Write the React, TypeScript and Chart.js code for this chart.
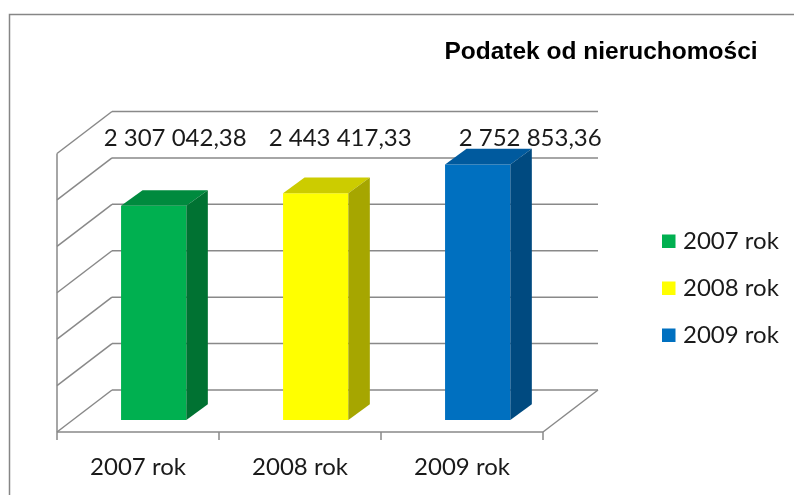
import React, { useEffect, useRef } from 'react';
import { Chart, registerables } from 'chart.js';

Chart.register(...registerables);

// ---- data ----
const categories = ['2007 rok', '2008 rok', '2009 rok'];
const values = [2307042.38, 2443417.33, 2752853.36];
const yTicks = [0, 500000, 1000000, 1500000, 2000000, 2500000, 3000000];
const chartTitle = 'Podatek od nieruchomości';

// ---- styles ----
const frontColors = ['#00B050', '#FFFF00', '#0070C0'];
const topColors = ['#008A3E', '#CCCC00', '#005A9E'];
const sideColors = ['#007232', '#A6A600', '#004A80'];
const labelShift = [0, 3, 31];

const FRONT = { dx: -15.7, dy: 12 };
const BACK = { dx: 39.3, dy: -30 };
const BAR_DEPTH = { dx: 21.5, dy: -15.7 };
const LINE = '#898989';
const FONT = 'Lato, "Open Sans", sans-serif';
const TEXT_SIZE = 24;

function fmt(v: number): string {
  const [i, d] = v.toFixed(2).split('.');
  return i.replace(/\B(?=(\d{3})+(?!\d))/g, ' ') + ',' + d;
}

function line(ctx: CanvasRenderingContext2D, x1: number, y1: number, x2: number, y2: number) {
  ctx.beginPath();
  ctx.moveTo(x1, y1);
  ctx.lineTo(x2, y2);
  ctx.stroke();
}

const excel3d = {
  id: 'excel3d',
  beforeDraw(chart: any) {
    const { ctx, width, height } = chart;
    ctx.save();
    ctx.fillStyle = '#ffffff';
    ctx.fillRect(0, 0, width, height);
    ctx.strokeStyle = '#868686';
    ctx.lineWidth = 1.5;
    ctx.strokeRect(9.5, 14.5, width + 40, height + 40);

    ctx.fillStyle = '#000';
    ctx.font = 'bold 24.5px "Liberation Sans", Arial, sans-serif';
    ctx.textAlign = 'center';
    ctx.textBaseline = 'middle';
    ctx.fillText(chartTitle, 601, 52);

    ctx.font = `${TEXT_SIZE}px ${FONT}`;
    ctx.textAlign = 'left';
    categories.forEach((c, i) => {
      const cy = 241 + i * 47;
      ctx.fillStyle = frontColors[i];
      ctx.fillRect(662, cy - 6.5, 13.5, 13.5);
      ctx.fillStyle = '#1a1a1a';
      ctx.fillText(c, 683, cy);
    });
    ctx.restore();
  },
  beforeDatasetsDraw(chart: any) {
    const { ctx, chartArea } = chart;
    const xs = chart.scales.x;
    const ys = chart.scales.y;
    const L = chartArea.left;
    const R = chartArea.right;
    ctx.save();
    ctx.strokeStyle = LINE;
    ctx.lineWidth = 1.5;
    yTicks.forEach((v) => {
      const py = ys.getPixelForValue(v);
      line(ctx, L + BACK.dx, py + BACK.dy, R + BACK.dx, py + BACK.dy);
      line(ctx, L + FRONT.dx, py + FRONT.dy, L + BACK.dx, py + BACK.dy);
    });
    const y0 = ys.getPixelForValue(0);
    const yTop = ys.getPixelForValue(yTicks[yTicks.length - 1]);
    line(ctx, L + FRONT.dx, yTop + FRONT.dy, L + FRONT.dx, y0 + FRONT.dy);
    line(ctx, L + FRONT.dx, y0 + FRONT.dy, R + FRONT.dx, y0 + FRONT.dy);
    line(ctx, R + FRONT.dx, y0 + FRONT.dy, R + BACK.dx, y0 + BACK.dy);
    const n = categories.length;
    const cw = (R - L) / n;
    for (let i = 0; i <= n; i++) {
      const bx = L + cw * i + FRONT.dx;
      line(ctx, bx, y0 + FRONT.dy, bx, y0 + FRONT.dy + 8);
    }
    ctx.fillStyle = '#1a1a1a';
    ctx.font = `${TEXT_SIZE}px ${FONT}`;
    ctx.textAlign = 'center';
    ctx.textBaseline = 'middle';
    categories.forEach((c, i) => {
      ctx.fillText(c, xs.getPixelForValue(i) + FRONT.dx, y0 + FRONT.dy + 35);
    });
    ctx.restore();
  },
  afterDatasetsDraw(chart: any) {
    const { ctx, chartArea } = chart;
    const meta = chart.getDatasetMeta(0);
    ctx.save();
    meta.data.forEach((el: any, i: number) => {
      const { x, y, base, width } = el.getProps(['x', 'y', 'base', 'width'], true);
      const l = x - width / 2;
      const r = x + width / 2;
      const { dx, dy } = BAR_DEPTH;
      ctx.fillStyle = topColors[i];
      ctx.beginPath();
      ctx.moveTo(l, y);
      ctx.lineTo(l + dx, y + dy);
      ctx.lineTo(r + dx, y + dy);
      ctx.lineTo(r, y);
      ctx.closePath();
      ctx.fill();
      ctx.fillStyle = sideColors[i];
      ctx.beginPath();
      ctx.moveTo(r, y);
      ctx.lineTo(r + dx, y + dy);
      ctx.lineTo(r + dx, base + dy);
      ctx.lineTo(r, base);
      ctx.closePath();
      ctx.fill();

      ctx.fillStyle = '#1a1a1a';
      ctx.font = `${TEXT_SIZE}px ${FONT}`;
      ctx.textAlign = 'center';
      ctx.textBaseline = 'middle';
      ctx.fillText(fmt(values[i]), x + dx + labelShift[i], chartArea.top - 3.5);
    });
    ctx.restore();
  },
};

export default function App() {
  const ref = useRef<HTMLCanvasElement>(null);
  useEffect(() => {
    if (!ref.current) return;
    const chart = new Chart(ref.current, {
      type: 'bar',
      data: {
        labels: categories,
        datasets: [
          {
            label: chartTitle,
            data: values,
            backgroundColor: frontColors,
            borderWidth: 0,
            barPercentage: 0.403,
            categoryPercentage: 1,
          },
        ],
      },
      options: {
        responsive: false,
        devicePixelRatio: 1,
        animation: false,
        layout: { padding: { left: 72.7, right: 235.3, top: 141.5, bottom: 75 } },
        plugins: {
          legend: { display: false },
          title: { display: false },
          tooltip: { enabled: false },
        },
        scales: {
          x: { type: 'category', display: false, offset: true },
          y: {
            display: false,
            min: yTicks[0],
            max: yTicks[yTicks.length - 1],
            ticks: { stepSize: yTicks[1] - yTicks[0] },
          },
        },
      },
      plugins: [excel3d],
    });
    return () => chart.destroy();
  }, []);
  return (
    <div style={{ position: 'fixed', left: 0, top: 0, width: 794, height: 495, background: '#fff' }}>
      <canvas ref={ref} width={794} height={495} style={{ display: 'block', width: 794, height: 495 }} />
    </div>
  );
}
